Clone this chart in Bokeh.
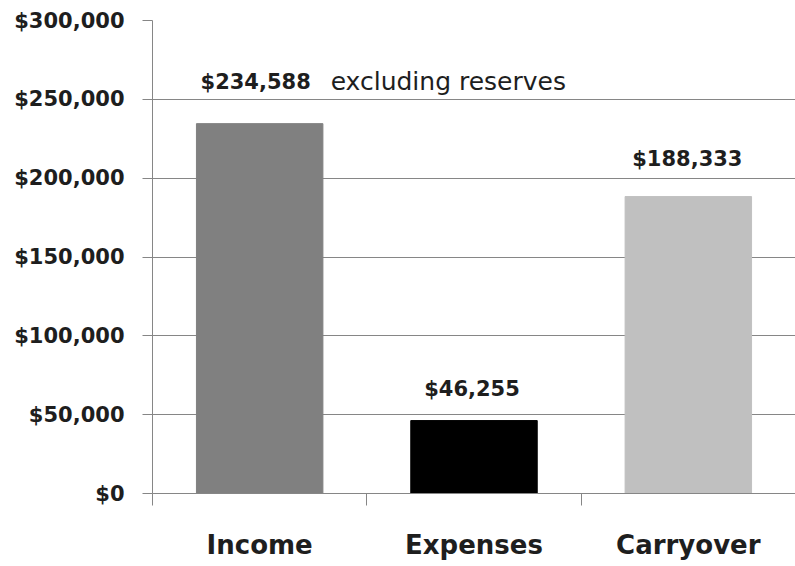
from bokeh.plotting import figure
from bokeh.models import (Range1d, LinearAxis, FixedTicker,
                          NumeralTickFormatter, CustomJSTickFormatter, ColumnDataSource)
from bokeh.core.properties import value
from bokeh.embed import file_html
from bokeh.resources import INLINE

# ---- data ----
categories = ["Income", "Expenses", "Carryover"]
amounts = [234588, 46255, 188333]
bar_colors = ["#808080", "#000000", "#c0c0c0"]
value_labels = ["$234,588", "$46,255", "$188,333"]
note_text = "excluding reserves"
y_ticks = [0, 50000, 100000, 150000, 200000, 250000, 300000]
y_max = 300000

FONT = "DejaVu Sans"
TXT = "#1e1e1e"
GRID = "#868686"

n = len(categories)
centers = [i + 0.5 for i in range(n)]   # slot centres on a 0..n band scale
edges = list(range(n + 1))              # slot boundaries

p = figure(width=795, height=566, output_backend="svg", toolbar_location=None,
           x_range=Range1d(0, n), y_range=Range1d(0, y_max),
           x_axis_location=None, y_axis_location=None,
           min_border_left=152, min_border_right=0, min_border_top=20, min_border_bottom=73)
p.outline_line_color = None
p.background_fill_color = "white"
p.border_fill_color = "white"

# y axis
yaxis = LinearAxis(ticker=FixedTicker(ticks=y_ticks),
                   formatter=NumeralTickFormatter(format="$0,0"))
yaxis.axis_line_color = GRID
yaxis.major_tick_line_color = GRID
yaxis.major_tick_out = 10
yaxis.major_tick_in = 0
yaxis.minor_tick_line_color = None
yaxis.major_label_standoff = 18
yaxis.major_label_text_font = FONT
yaxis.major_label_text_font_style = "bold"
yaxis.major_label_text_font_size = "21px"
yaxis.major_label_text_color = TXT
p.add_layout(yaxis, "left")

# x axis: boundary ticks
edge_axis = LinearAxis(ticker=FixedTicker(ticks=edges),
                       formatter=CustomJSTickFormatter(code="return ''"))
edge_axis.axis_line_color = GRID
edge_axis.major_tick_line_color = GRID
edge_axis.major_tick_out = 12
edge_axis.major_tick_in = 0
edge_axis.minor_tick_line_color = None
edge_axis.major_label_standoff = 0
edge_axis.major_label_text_font_size = "1px"
p.add_layout(edge_axis, "below")

# x axis: category labels
cat_axis = LinearAxis(ticker=FixedTicker(ticks=centers),
                      major_label_overrides={c: name for c, name in zip(centers, categories)})
cat_axis.axis_line_color = None
cat_axis.major_tick_line_color = None
cat_axis.minor_tick_line_color = None
cat_axis.major_label_standoff = 18
cat_axis.major_label_text_font = FONT
cat_axis.major_label_text_font_style = "bold"
cat_axis.major_label_text_font_size = "26px"
cat_axis.major_label_text_color = TXT
p.add_layout(cat_axis, "below")

p.xgrid.visible = False
p.ygrid.ticker = FixedTicker(ticks=y_ticks)
p.ygrid.grid_line_color = GRID
p.ygrid.grid_line_width = 1

src = ColumnDataSource(dict(x=centers, amt=amounts, color=bar_colors, lab=value_labels))
p.vbar(x="x", top="amt", bottom=0, width=0.59, color="color", source=src)

# value labels (per-bar offsets)
offsets = [(-4, -42), (-2, -32), (-1, -38)]
for i, (dx, dy) in enumerate(offsets):
    p.text(x=[centers[i]], y=[amounts[i]], text=[value_labels[i]],
           x_offset=dx, y_offset=dy, text_align="center", text_baseline="alphabetic",
           text_font=value(FONT), text_font_style="bold", text_font_size="21px",
           text_color=TXT)

p.text(x=[centers[0]], y=[amounts[0]], text=[note_text], x_offset=71, y_offset=-42,
       text_align="left", text_baseline="alphabetic", text_font=value(FONT),
       text_font_size="25px", text_color=TXT)

open("out.html", "w").write(file_html(p, INLINE))
